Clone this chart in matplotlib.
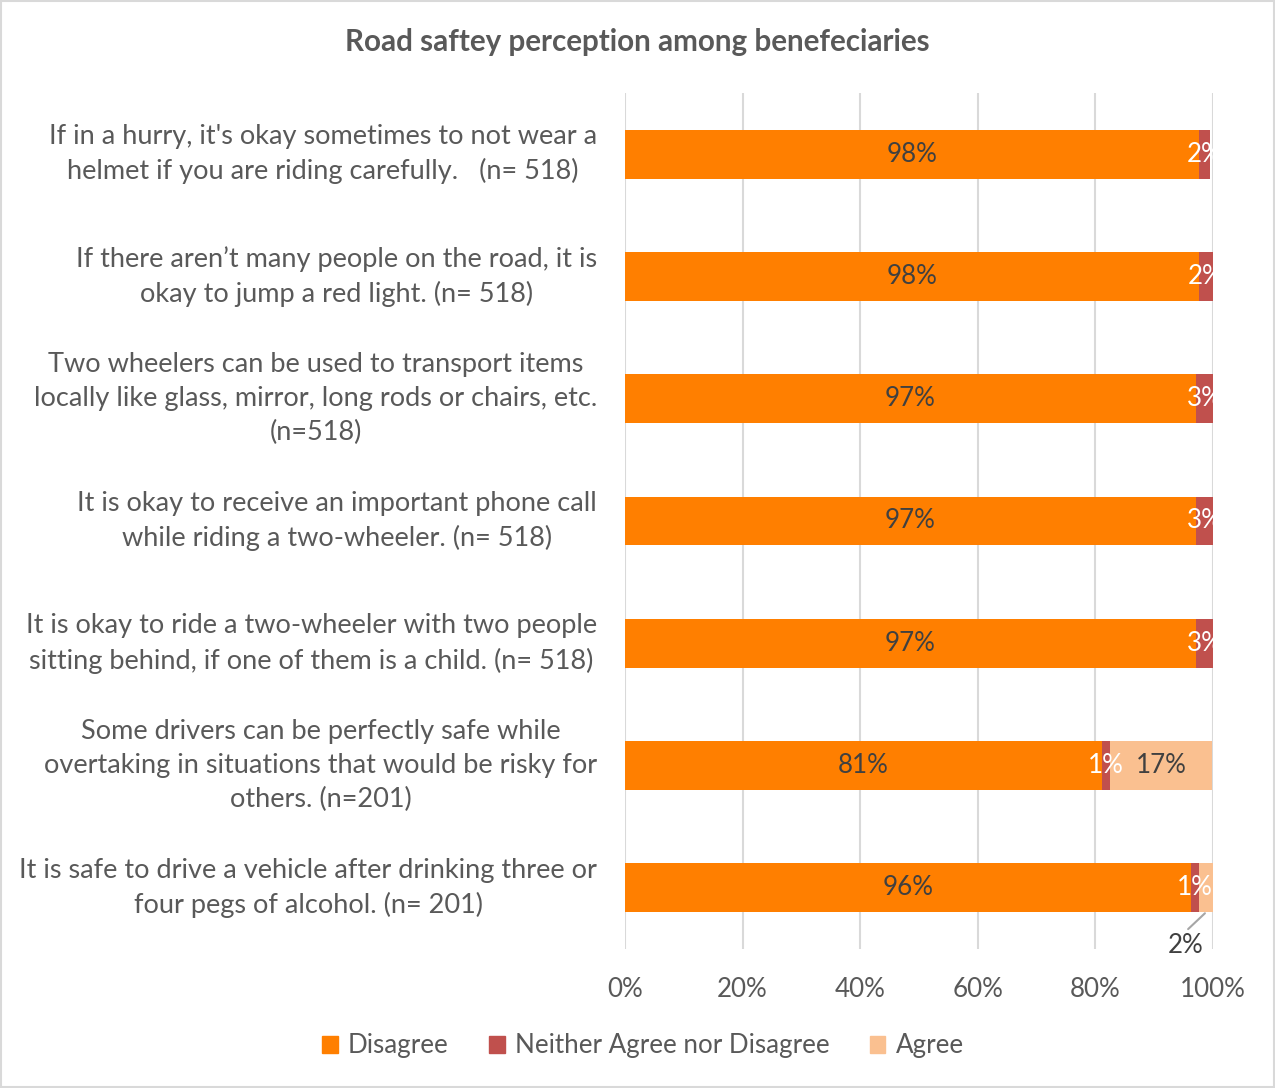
import matplotlib
matplotlib.use("Agg")
import matplotlib.pyplot as plt
from matplotlib.patches import Rectangle
import numpy as np

categories = [
    "If in a hurry, it's okay sometimes to not wear a\nhelmet if you are riding carefully.   (n= 518)",
    "If there aren\u2019t many people on the road, it is\nokay to jump a red light. (n= 518)",
    "Two wheelers can be used to transport items\nlocally like glass, mirror, long rods or chairs, etc.\n(n=518)",
    "It is okay to receive an important phone call\nwhile riding a two-wheeler. (n= 518)",
    "It is okay to ride a two-wheeler with two people\nsitting behind, if one of them is a child. (n= 518)",
    "Some drivers can be perfectly safe while\novertaking in situations that would be risky for\nothers. (n=201)",
    "It is safe to drive a vehicle after drinking three or\nfour pegs of alcohol. (n= 201)",
]
disagree = [97.6, 97.6, 97.1, 97.1, 97.1, 81.1, 96.2]
neither = [1.9, 2.4, 2.9, 2.9, 2.9, 1.4, 1.4]
agree = [0.0, 0.0, 0.0, 0.0, 0.0, 17.4, 2.4]
series_names = ["Disagree", "Neither Agree nor Disagree", "Agree"]
colors = ["#FF7F00", "#C0504D", "#FAC090"]
xticks = [0, 20, 40, 60, 80, 100]
xtick_labels = ["0%", "20%", "40%", "60%", "80%", "100%"]
title = "Road saftey perception among benefeciaries"

plt.rcParams['font.family'] = ['Lato', 'DejaVu Sans']
TXT = "#595959"
LBL = "#404040"

fig = plt.figure(figsize=(12.75, 10.88), dpi=100)
ax = fig.add_axes([625/1275, 1-949/1088, (1213-625)/1275, (949-93)/1088])

y = np.arange(len(categories))
h = 0.40
left = np.zeros(len(categories))
for vals, name, c in zip([disagree, neither, agree], series_names, colors):
    ax.barh(y, vals, left=left, height=h, color=c, label=name, zorder=3)
    left = left + np.array(vals)

fs = 18.7
fsy = 19.5
# data labels
for i in range(len(categories)):
    d, n, a = disagree[i], neither[i], agree[i]
    ax.text(d/2, i, f"{d:.0f}%", ha="center", va="center", color=LBL, fontsize=fs, zorder=5)
    ax.text(d + n/2, i, f"{n:.0f}%", ha="center", va="center", color="white", fontsize=fs, zorder=5)
    if a > 5:
        ax.text(d + n + a/2, i, f"{a:.0f}%", ha="center", va="center", color=LBL, fontsize=fs, zorder=5)
    elif a > 0:
        xa = d + n + a/2
        ax.annotate(f"{a:.0f}%", xy=(xa, i + h/2), xytext=(d + n - 2.2, i + 0.47),
                    ha="center", va="center", color=LBL, fontsize=fs,
                    arrowprops=dict(arrowstyle="-", color="#A6A6A6", lw=1.5,
                                    relpos=(0.45, 1.0), shrinkA=1, shrinkB=1),
                    zorder=6, annotation_clip=False)

ax.set_ylim(len(categories) - 0.5, -0.5)
ax.set_xlim(0, 100)
ax.set_yticks(y)
ax.set_yticklabels(categories, fontsize=fsy, color=TXT, multialignment="center",
                   verticalalignment="center")
ax.set_xticks(xticks)
ax.set_xticklabels(xtick_labels, fontsize=fs, color=TXT)
ax.tick_params(axis="y", length=0, pad=20)
ax.tick_params(axis="x", length=0, pad=20)
for lbl in ax.get_yticklabels():
    lbl.set_linespacing(1.45)
for s in ax.spines.values():
    s.set_visible(False)
ax.grid(axis="x", color="#D9D9D9", lw=1.5, zorder=0)
ax.set_axisbelow(True)

fig.text(0.5, 1-42/1088, title, ha="center", va="center", fontsize=21.3,
         fontweight="bold", color=TXT)

handles = [Rectangle((0, 0), 1, 1, color=c) for c in colors]
fig.legend(handles, series_names, loc="center", bbox_to_anchor=(643/1275, 1-1046/1088),
           ncol=3, frameon=False, fontsize=fs, handlelength=0.6, handleheight=0.6,
           handletextpad=0.4, columnspacing=1.55, labelcolor=TXT)

fig.add_artist(Rectangle((0.0008, 0.001), 0.9984, 0.998, transform=fig.transFigure,
                         fill=False, edgecolor="#D9D9D9", lw=1.5))

fig.savefig("out.png", dpi=100)
